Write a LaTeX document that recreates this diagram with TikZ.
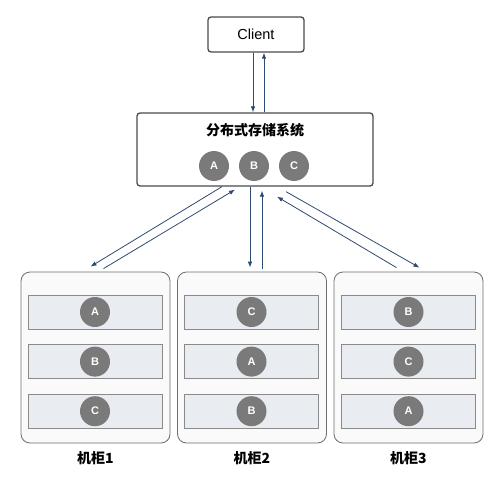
\documentclass[tikz,border=0pt]{standalone}
\usepackage{fontspec}
\setmainfont{Liberation Sans}
\newfontfamily\cjk{Noto Sans CJK SC}
\usetikzlibrary{arrows.meta,positioning,calc}
\definecolor{arrowblue}{HTML}{2C4A72}
\definecolor{boxgray}{HTML}{4A4A4A}
\definecolor{rackgray}{HTML}{6E6E6E}
\definecolor{rackfill}{HTML}{FAFAFA}
\definecolor{shelfgray}{HTML}{8A8A8A}
\definecolor{shelffill}{HTML}{E9ECF0}
\definecolor{diskgray}{HTML}{7A7A7A}
\tikzset{
  box/.style={draw=boxgray, rounded corners=3pt, fill=white, line width=1.3pt},
  rack/.style={draw=rackgray, rounded corners=9pt, fill=rackfill, line width=0.8pt, minimum width=149pt, minimum height=171pt},
  shelf/.style={draw=shelfgray, fill=shelffill, line width=0.6pt, minimum width=134pt, minimum height=34pt},
  disk/.style={circle, fill=diskgray, text=white, font=\fontsize{11}{13}\selectfont\bfseries, minimum size=30pt, inner sep=0pt},
  arrow/.style={-{Latex[length=6pt,width=4.5pt]}, arrowblue, line width=0.8pt},
  rlabel/.style={font=\cjk\bfseries\fontsize{14}{16}\selectfont},
}

\begin{document}
\begin{tikzpicture}[x=1pt, y=-1pt]
  \useasboundingbox (0,0) rectangle (500,476);

  % client and storage system
  \node[box, minimum width=96pt, minimum height=35pt, font=\fontsize{14.5}{16}\selectfont] (client) at (256,34.5) {Client};
  \node[box, minimum width=236pt, minimum height=73pt] (sys) at (255,149.5) {};
  \node[rlabel] (systitle) at (255,130) {分布式存储系统};
  \node[disk] (sa) at (214,166) {A};
  \node[disk] (sb) at (254,166) {B};
  \node[disk] (sc) at (294,166) {C};

  \draw[arrow] ([xshift=-3pt]client.south) -- ([xshift=-2pt]sys.north);
  \draw[arrow] ([xshift=9pt]sys.north) -- ([xshift=8pt]client.south);

  % racks
  \node[rack] (rack1) at (95.5,357.5) {};
  \node[rack] (rack2) at (252,357.5) {};
  \node[rack] (rack3) at (408.5,357.5) {};

  \node[shelf] (s11) at (95,312) {};
  \node[shelf, below=15pt of s11] (s12) {};
  \node[shelf, below=15pt of s12] (s13) {};
  \node[shelf] (s21) at (251.5,312) {};
  \node[shelf, below=15pt of s21] (s22) {};
  \node[shelf, below=15pt of s22] (s23) {};
  \node[shelf] (s31) at (408.5,312) {};
  \node[shelf, below=15pt of s31] (s32) {};
  \node[shelf, below=15pt of s32] (s33) {};

  \node[disk] at (s11) {A};
  \node[disk] at (s12) {B};
  \node[disk] at (s13) {C};
  \node[disk] at (s21) {C};
  \node[disk] at (s22) {A};
  \node[disk] at (s23) {B};
  \node[disk] at (s31) {B};
  \node[disk] at (s32) {C};
  \node[disk] at (s33) {A};

  \node[rlabel, below=5pt of rack1] (lab1) {机柜1};
  \node[rlabel, below=5pt of rack2] (lab2) {机柜2};
  \node[rlabel, below=5pt of rack3] (lab3) {机柜3};

  % replication links
  \draw[arrow] ([xshift=-33pt]sys.south) -- ([xshift=-5pt,yshift=5pt]rack1.north);
  \draw[arrow] ([xshift=8pt,yshift=3pt]rack1.north) -- ([xshift=-20pt,yshift=-3pt]sys.south);
  \draw[arrow] ([xshift=-5pt]sys.south) -- ([xshift=-2pt,yshift=4pt]rack2.north);
  \draw[arrow] ([xshift=10pt,yshift=3pt]rack2.north) -- ([xshift=7pt,yshift=-4pt]sys.south);
  \draw[arrow] ([xshift=-12pt,yshift=4pt]rack3.north) -- ([xshift=22pt,yshift=-10pt]sys.south);
  \draw[arrow] ([xshift=31pt,yshift=-5pt]sys.south) -- ([xshift=11pt,yshift=4pt]rack3.north);
\end{tikzpicture}
\end{document}
